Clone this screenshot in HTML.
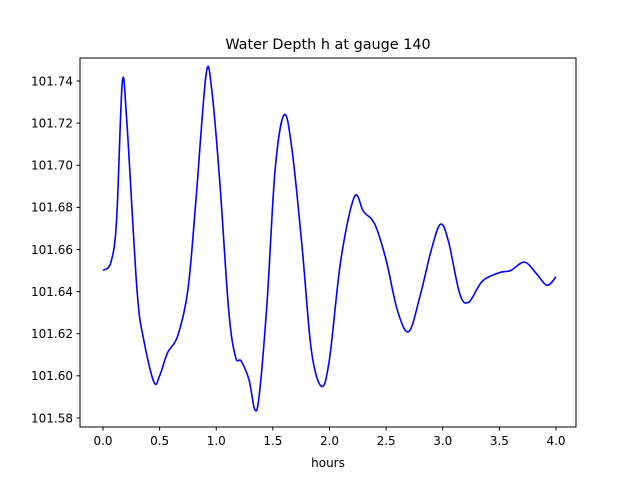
<!DOCTYPE html>
<html><head><meta charset="utf-8"><style>
html,body{margin:0;padding:0;background:#fff;}
svg text{font-family:"DejaVu Sans","Liberation Sans",sans-serif;fill:#000;}
</style></head><body>
<svg id="chart" width="640" height="480" xmlns="http://www.w3.org/2000/svg">
<rect width="640" height="480" fill="#fff"/>
<text x="328" y="49" font-size="14.4" text-anchor="middle">Water Depth h at gauge 140</text>
<g id="axes"></g>
<path id="line" fill="none" stroke="#0000ff" stroke-width="1.6"/>
<rect x="80" y="58" width="496" height="369" fill="none" stroke="#000" stroke-width="1"/>
<text x="328" y="467" font-size="12" text-anchor="middle">hours</text>
</svg>
<script>
const hours=[0,0.07,0.12,0.17,0.21,0.3,0.36,0.45,0.5,0.57,0.66,0.75,0.82,0.91,0.96,1.03,1.11,1.17,1.22,1.29,1.34,1.38,1.45,1.52,1.6,1.67,1.76,1.84,1.93,2.0,2.1,2.22,2.3,2.4,2.5,2.6,2.7,2.8,2.9,2.98,3.05,3.15,3.23,3.35,3.5,3.6,3.72,3.82,3.92,4.0];
const depth=[101.650,101.654,101.674,101.739,101.721,101.641,101.617,101.597,101.600,101.611,101.619,101.641,101.683,101.743,101.736,101.693,101.631,101.609,101.607,101.598,101.584,101.591,101.636,101.698,101.724,101.707,101.660,101.612,101.595,101.608,101.655,101.685,101.678,101.672,101.655,101.631,101.621,101.638,101.660,101.672,101.664,101.639,101.635,101.645,101.649,101.650,101.654,101.649,101.643,101.647];
const xTicks=[0,0.5,1,1.5,2,2.5,3,3.5,4];
const xTickLabels=["0.0","0.5","1.0","1.5","2.0","2.5","3.0","3.5","4.0"];
const yTicks=[101.58,101.60,101.62,101.64,101.66,101.68,101.70,101.72,101.74];
const yTickLabels=["101.58","101.60","101.62","101.64","101.66","101.68","101.70","101.72","101.74"];
const X=v=>103+v*113.25;
const Y=v=>81+(101.74-v)*2106;
const ns="http://www.w3.org/2000/svg";
const axes=document.getElementById('axes');
function mk(t,a){const e=document.createElementNS(ns,t);for(const k in a)e.setAttribute(k,a[k]);return e;}
xTicks.forEach((t,i)=>{
 const l=mk('line',{x1:X(t),x2:X(t),y1:427,y2:430.5,stroke:'#000'});
 
 
 axes.appendChild(l);
 const tx=mk('text',{x:X(t),y:445,'font-size':12,'text-anchor':'middle'});
 
 
 tx.textContent=xTickLabels[i];axes.appendChild(tx);
});
yTicks.forEach((t,i)=>{
 const l=mk('line',{x1:76.5,x2:80,y1:Y(t),y2:Y(t),stroke:'#000'});
 
 
 axes.appendChild(l);
 const tx=mk('text',{x:73,y:Y(t)+4.3,'font-size':12,'text-anchor':'end'});
 
 
 tx.textContent=yTickLabels[i];axes.appendChild(tx);
});
const P=hours.map((h,i)=>[X(h),Y(depth[i])]);
let d='M'+P[0][0]+','+P[0][1];
for(let i=0;i<P.length-1;i++){
 const p0=P[Math.max(0,i-1)],p1=P[i],p2=P[i+1],p3=P[Math.min(P.length-1,i+2)];
 const c1=[p1[0]+(p2[0]-p0[0])/6,p1[1]+(p2[1]-p0[1])/6];
 const c2=[p2[0]-(p3[0]-p1[0])/6,p2[1]-(p3[1]-p1[1])/6];
 d+=' C'+c1[0]+','+c1[1]+' '+c2[0]+','+c2[1]+' '+p2[0]+','+p2[1];
}
document.getElementById('line').setAttribute('d',d);
</script>
</body></html>
